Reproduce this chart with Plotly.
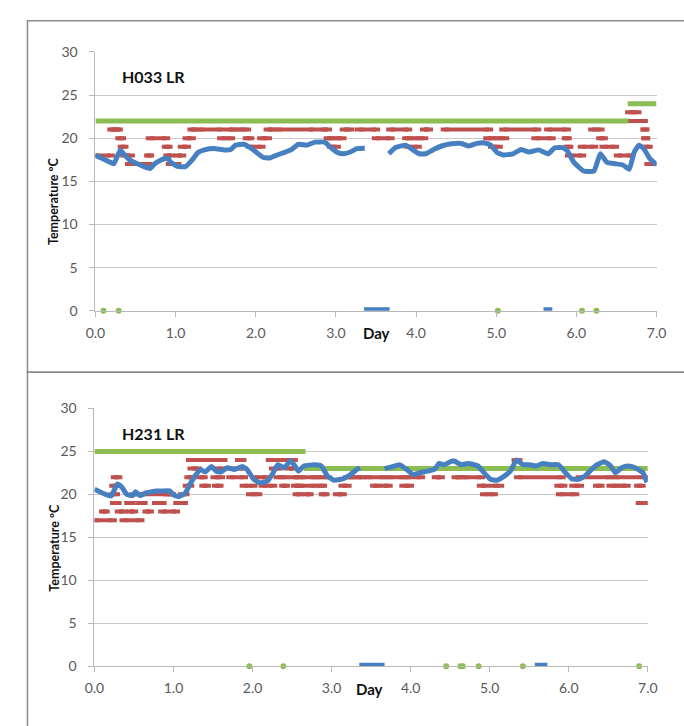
import plotly.graph_objects as go

W, H = 684, 726

# ---------------- H033 LR ----------------
h033_day = [0.0, 0.10, 0.19, 0.23, 0.31, 0.35, 0.44, 0.56, 0.68, 0.74, 0.80, 0.90, 0.94,
            1.02, 1.12, 1.20, 1.28, 1.36, 1.48, 1.61, 1.69, 1.75, 1.85, 1.93, 2.01, 2.09,
            2.17, 2.25, 2.37, 2.45, 2.53, 2.64, 2.74, 2.86, 2.94, 3.02, 3.10, 3.18, 3.26,
            3.36, None,
            3.66, 3.74, 3.87, 3.96, 4.04, 4.12, 4.22, 4.32, 4.44, 4.56, 4.66, 4.76, 4.86,
            4.93, 5.01, 5.09, 5.21, 5.31, 5.41, 5.53, 5.65, 5.73, 5.83, 5.89, 5.97, 6.09,
            6.22, 6.26, 6.30, 6.38, 6.48, 6.58, 6.66, 6.72, 6.78, 6.84, 6.92, 7.0]
h033_temp = [18.0, 17.6, 17.2, 17.05, 18.65, 18.2, 17.4, 16.9, 16.5, 17.05, 17.4, 17.7, 17.2,
             16.75, 16.7, 17.4, 18.35, 18.65, 18.8, 18.65, 18.7, 19.2, 19.3, 18.9, 18.35, 17.8,
             17.7, 18.0, 18.4, 18.7, 19.3, 19.2, 19.55, 19.55, 18.9, 18.35, 18.2, 18.4, 18.8,
             18.85, None,
             18.2, 18.9, 19.2, 18.65, 18.2, 18.2, 18.7, 19.1, 19.35, 19.4, 19.1, 19.4, 19.45,
             19.2, 18.35, 18.05, 18.2, 18.7, 18.4, 18.65, 18.2, 18.9, 18.9, 18.5, 17.2, 16.2,
             16.2, 17.2, 18.2, 17.2, 17.05, 16.9, 16.4, 18.35, 19.2, 18.8, 17.6, 16.95]

# thermostat readings (runs of constant value): start day, end day, value
h033_rd_start = [0.00, 0.20, 0.26, 0.30, 0.33, 0.36, 0.42, 0.66, 0.68, 0.88, 0.90, 0.93, 1.02,
                 1.08, 1.14, 1.20, 1.30, 1.57, 1.67, 1.79, 1.89, 1.93, 2.07, 2.15, 2.27, 2.82,
                 2.90, 2.94, 3.00, 3.10, 3.29, 3.50, 3.68, 3.88, 3.90, 3.99, 4.10, 4.36, 4.89,
                 4.95, 5.01, 5.09, 5.49, 5.65, 5.87, 5.89, 5.91, 6.07, 6.20, 6.30, 6.34, 6.52,
                 6.66, 6.70, 6.85, 6.86, 6.87, 6.90]
h033_rd_end = [0.19, 0.23, 0.29, 0.33, 0.36, 0.44, 0.66, 0.68, 0.88, 0.91, 0.94, 1.02, 1.08,
               1.14, 1.20, 1.24, 1.57, 1.69, 1.73, 1.89, 1.93, 2.07, 2.15, 2.21, 2.72, 2.90,
               2.94, 3.01, 3.08, 3.18, 3.50, 3.68, 3.90, 3.92, 4.02, 4.10, 4.16, 4.91, 4.95,
               5.03, 5.11, 5.51, 5.69, 5.88, 5.89, 5.91, 6.07, 6.22, 6.30, 6.34, 6.48, 6.68,
               6.76, 6.84, 6.86, 6.87, 6.90, 6.99]
h033_rd_val = [18, 21, 21, 20, 19, 18, 17, 18, 20, 19, 18, 17, 18,
               19, 20, 21, 21, 20, 21, 21, 20, 19, 20, 21, 21, 21,
               20, 19, 20, 21, 21, 20, 21, 20, 19, 20, 21, 21, 20,
               19, 20, 21, 20, 21, 20, 19, 18, 19, 21, 20, 19, 18,
               23, 22, 21, 20, 19, 17]

h033_sp_start = [0.0, 6.64]
h033_sp_end = [6.66, 7.0]
h033_sp_val = [22, 24]

h033_zero_green = [0.10, 0.29, 5.02, 6.07, 6.25]
h033_zero_blue_start = [3.35, 5.59]
h033_zero_blue_end = [3.67, 5.70]

# ---------------- H231 LR ----------------
h231_day = [0.0, 0.09, 0.21, 0.29, 0.35, 0.41, 0.48, 0.52, 0.58, 0.64, 0.72, 0.78, 0.86, 0.95,
            1.01, 1.07, 1.15, 1.21, 1.27, 1.34, 1.40, 1.48, 1.54, 1.60, 1.68, 1.77, 1.87, 1.93,
            2.01, 2.09, 2.19, 2.26, 2.32, 2.40, 2.48, 2.54, 2.58, 2.65, 2.79, 2.87, 2.95, 3.03,
            3.14, 3.24, 3.32, 3.36, None,
            3.67, 3.76, 3.86, 3.95, 4.03, 4.11, 4.21, 4.30, 4.36, 4.42, 4.54, 4.64, 4.73, 4.85,
            4.93, 5.01, 5.09, 5.18, 5.26, 5.34, 5.42, 5.50, 5.59, 5.67, 5.77, 5.87, 5.96, 6.04,
            6.12, 6.20, 6.29, 6.36, 6.45, 6.53, 6.59, 6.67, 6.75, 6.84, 6.94, 6.99]
h231_temp = [20.6, 20.2, 19.8, 21.2, 20.8, 20.0, 19.85, 20.3, 19.85, 20.15, 20.3, 20.4, 20.4, 20.4,
             19.9, 19.75, 20.15, 21.2, 22.1, 22.9, 22.6, 23.25, 22.7, 22.6, 23.1, 22.9, 23.25, 22.9,
             21.8, 21.35, 21.55, 22.5, 23.45, 23.1, 23.9, 23.25, 22.7, 23.3, 23.45, 23.3, 22.1, 21.65,
             21.8, 22.3, 22.9, 23.1, None,
             23.0, 23.2, 23.45, 22.9, 22.3, 22.5, 22.7, 22.9, 23.6, 23.45, 23.9, 23.45, 23.6, 23.3,
             22.5, 21.75, 21.65, 22.1, 22.7, 24.0, 23.45, 23.45, 23.3, 23.6, 23.45, 23.45, 22.5, 21.8,
             21.75, 22.1, 22.9, 23.45, 23.8, 23.3, 22.5, 23.1, 23.3, 23.1, 22.5, 21.4]

h231_rd_start = [0.00, 0.37,
                 0.11, 0.31, 0.45, 0.66, 0.86,
                 0.25, 0.43, 0.58, 0.78, 1.05,
                 0.23, 0.50, 0.60, 0.95, 1.11, 1.97, 2.56, 2.68, 2.89, 3.07,
                 0.24, 1.17, 1.38, 1.54, 1.89, 2.13, 2.39, 2.54, 2.60, 2.86, 3.14,
                 0.26, 1.19, 1.34, 1.52, 1.72, 2.03, 2.32, 2.52, 2.62, 2.83, 3.20, 3.32, 3.46,
                 1.23, 1.56, 1.76, 2.26, 2.46,
                 1.21, 1.60, 1.83, 2.22, 2.48,
                 3.72, 3.95, 4.32, 4.57, 4.67, 5.36, 6.14, 6.59,
                 3.54, 3.66, 3.91, 4.89, 5.05, 5.87, 6.06, 6.36, 6.53, 6.67, 6.88,
                 4.93, 5.89,
                 6.90,
                 5.33]
h231_rd_end = [0.23, 0.58,
               0.14, 0.37, 0.50, 0.70, 1.03,
               0.29, 0.47, 0.62, 0.86, 1.13,
               0.27, 0.54, 0.92, 0.98, 1.15, 2.07, 2.60, 2.72, 2.92, 3.14,
               0.28, 1.21, 1.42, 1.58, 2.01, 2.26, 2.42, 2.58, 2.79, 2.89, 3.20,
               0.30, 1.23, 1.38, 1.60, 1.89, 2.17, 2.42, 2.58, 2.79, 2.95, 3.28, 3.40, 3.66,
               1.31, 1.68, 1.89, 2.34, 2.52,
               1.52, 1.63, 1.87, 2.46, 2.52,
               3.91, 4.13, 4.38, 4.63, 4.89, 5.91, 6.53, 6.98,
               3.58, 3.72, 3.99, 4.95, 5.13, 5.93, 6.14, 6.40, 6.61, 6.73, 6.92,
               5.05, 6.08,
               6.99,
               5.36]
h231_rd_val = [17, 17,
               18, 18, 18, 18, 18,
               19, 19, 19, 19, 19,
               20, 20, 20, 20, 20, 20, 20, 20, 20, 20,
               21, 21, 21, 21, 21, 21, 21, 21, 21, 21, 21,
               22, 22, 22, 22, 22, 22, 22, 22, 22, 22, 22, 22, 22,
               23, 23, 23, 23, 23,
               24, 24, 24, 24, 24,
               22, 22, 22, 22, 22, 22, 22, 22,
               21, 21, 21, 21, 21, 21, 21, 21, 21, 21, 21,
               20, 20,
               19,
               24]

h231_sp_start = [0.0, 2.65]
h231_sp_end = [2.67, 7.0]
h231_sp_val = [25, 23]

h231_zero_green = [1.96, 2.39, 4.45, 4.63, 4.66, 4.86, 5.42, 6.89]
h231_zero_blue_start = [3.35, 5.57]
h231_zero_blue_end = [3.67, 5.73]

x_ticks = [0, 1, 2, 3, 4, 5, 6, 7]
x_tick_text = ["0.0", "1.0", "2.0", "3.0", "4.0", "5.0", "6.0", "7.0"]
y_ticks = [0, 5, 10, 15, 20, 25, 30]

BLUE = "#4680c0"
RED = "#c0504d"
GREEN = "#8cbd52"
GRID = "#c8c8c8"
FONT = "Lato, Roboto, sans-serif"


def px(x):
    return x / W


def py(y):
    return 1 - y / H


def runs(starts, ends, vals):
    xs, ys = [], []
    for s, e, v in zip(starts, ends, vals):
        xs += [s, e, None]
        ys += [v, v, None]
    return xs, ys


fig = go.Figure()

panels = [
    dict(xa="x", ya="y", day=h033_day, temp=h033_temp,
         rd=(h033_rd_start, h033_rd_end, h033_rd_val),
         sp=(h033_sp_start, h033_sp_end, h033_sp_val),
         zg=h033_zero_green, zb=(h033_zero_blue_start, h033_zero_blue_end)),
    dict(xa="x2", ya="y2", day=h231_day, temp=h231_temp,
         rd=(h231_rd_start, h231_rd_end, h231_rd_val),
         sp=(h231_sp_start, h231_sp_end, h231_sp_val),
         zg=h231_zero_green, zb=(h231_zero_blue_start, h231_zero_blue_end)),
]

for p in panels:
    sx, sy = runs(*p["sp"])
    fig.add_trace(go.Scatter(x=sx, y=sy, mode="lines", xaxis=p["xa"], yaxis=p["ya"],
                             line=dict(color=GREEN, width=5), showlegend=False, hoverinfo="skip"))
    rx, ry = runs(*p["rd"])
    fig.add_trace(go.Scatter(x=rx, y=ry, mode="lines+markers", xaxis=p["xa"], yaxis=p["ya"],
                             line=dict(color=RED, width=4),
                             marker=dict(symbol="line-ew", size=6, line=dict(color=RED, width=4)),
                             showlegend=False, hoverinfo="skip"))
    fig.add_trace(go.Scatter(x=p["day"], y=p["temp"], mode="lines", xaxis=p["xa"], yaxis=p["ya"],
                             line=dict(color=BLUE, width=5, shape="spline", smoothing=0.4),
                             connectgaps=False, showlegend=False, hoverinfo="skip"))
    bx, by = runs(p["zb"][0], p["zb"][1], [0] * len(p["zb"][0]))
    fig.add_trace(go.Scatter(x=bx, y=by, mode="lines", xaxis=p["xa"], yaxis=p["ya"],
                             line=dict(color=BLUE, width=7), cliponaxis=False,
                             showlegend=False, hoverinfo="skip"))
    fig.add_trace(go.Scatter(x=p["zg"], y=[0] * len(p["zg"]), mode="markers",
                             xaxis=p["xa"], yaxis=p["ya"], cliponaxis=False,
                             marker=dict(color=GREEN, size=6, symbol="circle"),
                             showlegend=False, hoverinfo="skip"))

xcommon = dict(range=[0, 7], tickvals=x_ticks, ticktext=x_tick_text, showgrid=False,
               zeroline=False, showline=True, linecolor="#b8b8b8", linewidth=1,
               ticks="outside", ticklen=5, tickcolor="#b8b8b8", ticklabelstandoff=4,
               tickfont=dict(family=FONT, size=14, color="#595959"))
ycommon = dict(range=[0, 30], tickvals=y_ticks, showgrid=True, gridcolor=GRID, gridwidth=1,
               zeroline=False, showline=True, linecolor="#b8b8b8", linewidth=1,
               ticks="outside", ticklen=5, tickcolor="#b8b8b8", ticklabelstandoff=9,
               tickfont=dict(family=FONT, size=14, color="#595959"))

fig.update_layout(
    width=W, height=H, margin=dict(l=0, r=0, t=0, b=0),
    paper_bgcolor="white", plot_bgcolor="white",
    xaxis=dict(domain=[px(88), px(666)], anchor="y", **xcommon),
    yaxis=dict(domain=[py(309), py(44)], anchor="x", **ycommon),
    xaxis2=dict(domain=[px(87), px(657)], anchor="y2", **xcommon),
    yaxis2=dict(domain=[py(673), py(409)], anchor="x2", **ycommon),
    shapes=[
        dict(type="rect", xref="paper", yref="paper", x0=px(18), x1=px(700), y0=py(372), y1=py(12),
             line=dict(color="#8a8a8a", width=1.5)),
        dict(type="rect", xref="paper", yref="paper", x0=px(18), x1=px(700), y0=py(740), y1=py(372),
             line=dict(color="#8a8a8a", width=1.5)),
    ],
)

annos = [
    ("<b>H033 LR</b>", 148, 69, 0, 16),
    ("<b>H231 LR</b>", 148, 435, 0, 16),
    ("<b>Day</b>", 378, 332, 0, 15),
    ("<b>Day</b>", 370, 696, 0, 15),
    ("<b>Temperature ºC</b>", 45, 197, -90, 12.5),
    ("<b>Temperature ºC</b>", 45, 552, -90, 12.5),
]
for text, x, y, ang, size in annos:
    fig.add_annotation(text=text, xref="paper", yref="paper", x=px(x), y=py(y),
                       xanchor="center", yanchor="middle", showarrow=False, textangle=ang,
                       font=dict(family=FONT, size=size, color="#111111"))

fig.write_html("out.html")
